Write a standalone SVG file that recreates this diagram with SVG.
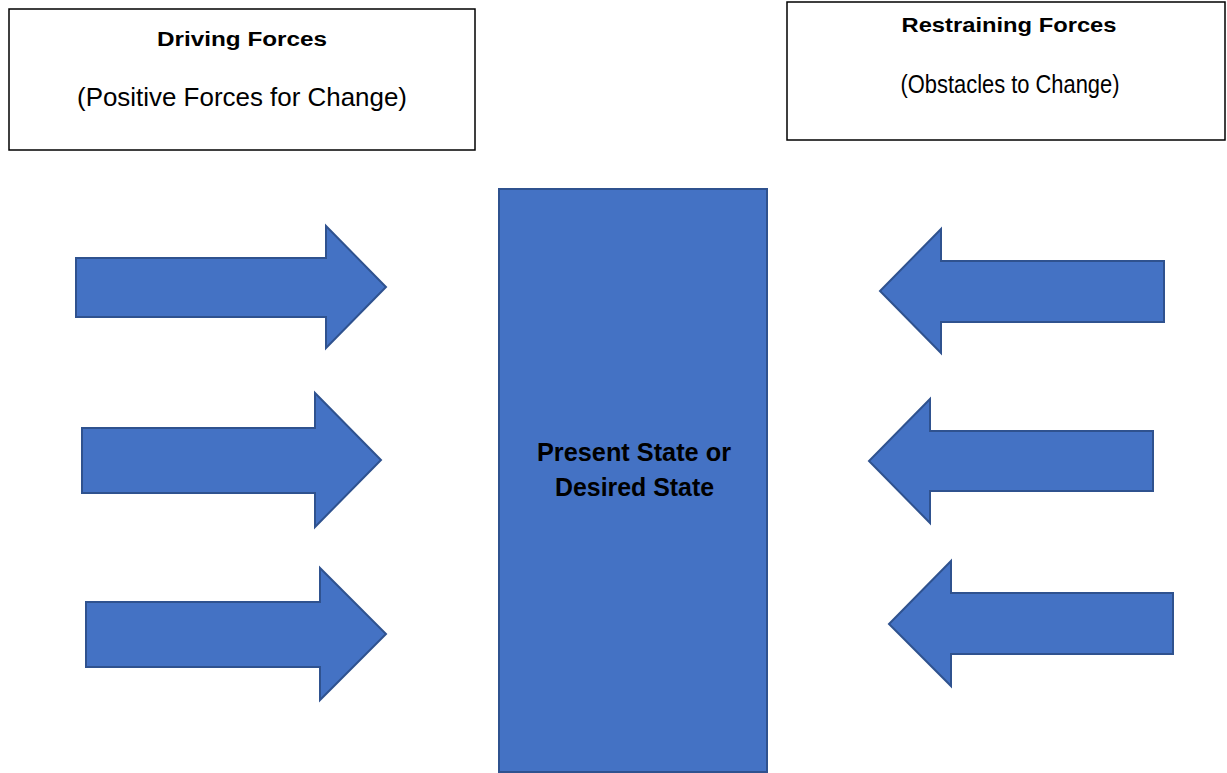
<svg xmlns="http://www.w3.org/2000/svg" width="1227" height="773" viewBox="0 0 1227 773">
<style>
.box{fill:#ffffff;stroke:#000000;stroke-width:1.5}
.shape{fill:#4472C4;stroke:#2F528F;stroke-width:2;stroke-linejoin:miter}
.t{font-family:"Liberation Sans",Arial,sans-serif;fill:#000000;text-anchor:middle}
.b{font-weight:bold}
</style>
<rect width="1227" height="773" fill="#ffffff"/>
<g id="driving-box">
<rect class="box" x="9" y="9" width="466" height="141"/>
<text class="t b" x="242" y="46" font-size="20" textLength="170" lengthAdjust="spacingAndGlyphs">Driving Forces</text>
<text class="t" x="242" y="106" font-size="25" textLength="330" lengthAdjust="spacingAndGlyphs">(Positive Forces for Change)</text>
</g>
<g id="restraining-box">
<rect class="box" x="787" y="2" width="438" height="138"/>
<text class="t b" x="1009" y="32" font-size="21" textLength="215" lengthAdjust="spacingAndGlyphs">Restraining Forces</text>
<text class="t" x="1010" y="93" font-size="25" textLength="219" lengthAdjust="spacingAndGlyphs">(Obstacles to Change)</text>
</g>
<g id="state">
<rect class="shape" x="499" y="189" width="268" height="583"/>
<text class="t b" x="634" y="461" font-size="25" textLength="194" lengthAdjust="spacingAndGlyphs">Present State or</text>
<text class="t b" x="634.5" y="496" font-size="25" textLength="159" lengthAdjust="spacingAndGlyphs">Desired State</text>
</g>
<g id="connectors">
<g id="driving-arrow-1"><polygon class="shape" points="76,258 326,258 326,226 386,287 326,348 326,317 76,317"/></g>
<g id="driving-arrow-2"><polygon class="shape" points="82,428 315,428 315,393 381,460 315,527 315,493 82,493"/></g>
<g id="driving-arrow-3"><polygon class="shape" points="86,602 320,602 320,568 386,634 320,700 320,667 86,667"/></g>
<g id="restraining-arrow-1"><polygon class="shape" points="1164,261 941,261 941,229 880,291 941,353 941,322 1164,322"/></g>
<g id="restraining-arrow-2"><polygon class="shape" points="1153,431 930,431 930,399 869,461 930,523 930,491 1153,491"/></g>
<g id="restraining-arrow-3"><polygon class="shape" points="1173,593 951,593 951,561 889,624 951,686 951,654 1173,654"/></g>
</g>
</svg>
